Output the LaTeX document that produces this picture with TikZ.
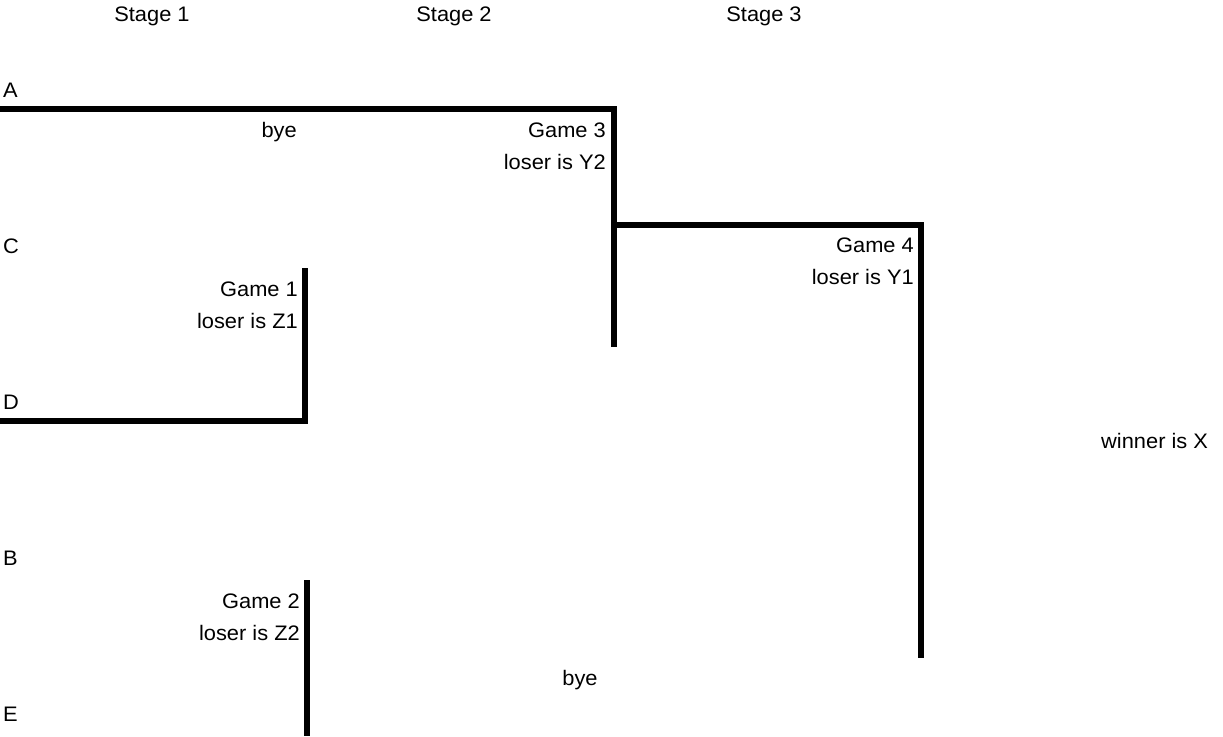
\documentclass[tikz,border=0pt]{standalone}
\usepackage{fontspec}
\setmainfont{Liberation Sans}
\newcommand{\wtx}[1]{\scalebox{1.04}[1]{#1}}
\begin{document}
\begin{tikzpicture}[x=1pt,y=-1pt,
  lbl/.style={inner sep=0pt,font=\fontsize{21}{25}\selectfont},
  bracket/.style={line width=6pt,line join=miter,line cap=butt}]
\useasboundingbox (0,0) rectangle (1223,736);
% stage headers
\node[lbl,anchor=base] (s1) at (152,21.5) {\wtx{Stage 1}};
\node[lbl,anchor=base] (s2) at (454,21.5) {\wtx{Stage 2}};
\node[lbl,anchor=base] (s3) at (764,21.5) {\wtx{Stage 3}};
% players
\node[lbl,anchor=base west] (pA) at (3,97) {\wtx{A}};
\node[lbl,anchor=base west] (pC) at (3,253) {\wtx{C}};
\node[lbl,anchor=base west] (pD) at (3,409) {\wtx{D}};
\node[lbl,anchor=base west] (pB) at (3,565) {\wtx{B}};
\node[lbl,anchor=base west] (pE) at (3,721) {\wtx{E}};
% coordinates of bracket lines
\coordinate (a0) at (0,109);
\coordinate (g3t) at (614,109);
\coordinate (g3b) at (614,347);
\coordinate (g4l) at (614,225);
\coordinate (g4t) at (921,225);
\coordinate (g4b) at (921,658);
\coordinate (g1t) at (305,268);
\coordinate (g1b) at (305,421);
\coordinate (d0) at (0,421);
\coordinate (g2t) at (307,580);
\coordinate (g2b) at (307,736);
\draw[bracket] (a0) -- (g3t) -- (g3b);
\draw[bracket] (g4l) -- (g4t) -- (g4b);
\draw[bracket] (g1t) -- (g1b) -- (d0);
\draw[bracket] (g2t) -- (g2b);
% labels
\node[lbl,anchor=base east] (bye1) at (297,137) {\wtx{bye}};
\node[lbl,anchor=base east] (g3) at (606,137) {\wtx{Game 3}};
\node[lbl,anchor=base east] (y2) at (606,169) {\wtx{loser is Y2}};
\node[lbl,anchor=base east] (g4) at (914,252) {\wtx{Game 4}};
\node[lbl,anchor=base east] (y1) at (914,284) {\wtx{loser is Y1}};
\node[lbl,anchor=base east] (g1) at (298,296) {\wtx{Game 1}};
\node[lbl,anchor=base east] (z1) at (298,328) {\wtx{loser is Z1}};
\node[lbl,anchor=base east] (g2) at (300,608) {\wtx{Game 2}};
\node[lbl,anchor=base east] (z2) at (300,640) {\wtx{loser is Z2}};
\node[lbl,anchor=base] (bye2) at (580,685) {\wtx{bye}};
\node[lbl,anchor=base west] (win) at (1101,448) {\wtx{winner is X}};
\end{tikzpicture}
\end{document}
